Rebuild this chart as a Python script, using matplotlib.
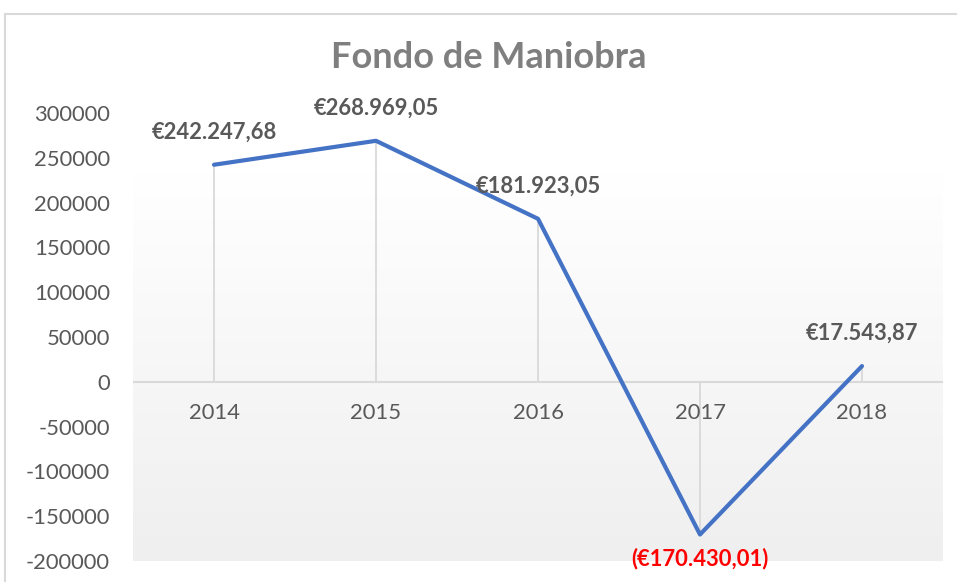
import numpy as np
import matplotlib
matplotlib.use("Agg")
import matplotlib.pyplot as plt
from matplotlib.lines import Line2D
from matplotlib.colors import LinearSegmentedColormap

years = ["2014", "2015", "2016", "2017", "2018"]
values = [242247.68, 268969.05, 181923.05, -170430.01, 17543.87]
labels = ["€242.247,68", "€268.969,05", "€181.923,05", "(€170.430,01)", "€17.543,87"]
yticks = [-200000, -150000, -100000, -50000, 0, 50000, 100000, 150000, 200000, 250000, 300000]

plt.rcParams['font.family'] = ['Lato', 'DejaVu Sans']

W, H = 957, 582
fig = plt.figure(figsize=(W / 100, H / 100), dpi=100)
fig.patch.set_facecolor("white")

# outer chart border
fig.add_artist(Line2D([5 / W, 5 / W], [0, 1 - 14 / H], transform=fig.transFigure, color="#d9d9d9", lw=1.5))
fig.add_artist(Line2D([5 / W, 1], [1 - 14 / H, 1 - 14 / H], transform=fig.transFigure, color="#d9d9d9", lw=1.5))

left, right, top, bottom = 133, 943, 113, 561
ax = fig.add_axes([left / W, 1 - bottom / H, (right - left) / W, (bottom - top) / H])
ax.set_facecolor("none")

x = np.arange(len(years))
ax.set_xlim(-0.5, len(years) - 0.5)
ax.set_ylim(-200000, 300000)

# gradient background
n = 256
frac = np.linspace(0, 1, n)  # 0 top -> 1 bottom
g = np.clip((frac - 0.13) / 0.87, 0, 1)
grad = g[:, None]
cmap = LinearSegmentedColormap.from_list("g", ["#ffffff", "#efefef"])
ax.imshow(grad, cmap=cmap, aspect="auto", extent=[-0.5, len(years) - 0.5, -200000, 300000],
          origin="upper", zorder=0, vmin=0, vmax=1)

for s in ax.spines.values():
    s.set_visible(False)

# zero axis
ax.axhline(0, color="#d9d9d9", lw=1.5, zorder=1)
# drop lines
for xi, v in zip(x, values):
    ax.plot([xi, xi], [0, v], color="#d9d9d9", lw=1.3, zorder=1)

ax.plot(x, values, color="#4472C4", lw=3.0, zorder=3, solid_joinstyle="round", solid_capstyle="round")

ax.set_yticks(yticks)
ax.set_yticklabels([str(t) for t in yticks], fontsize=15.8, color="#595959")
ax.tick_params(axis="y", length=0, pad=16.5)
ax.set_xticks([])

for xi, yr in zip(x, years):
    ax.annotate(yr, (xi, 0), xytext=(0, -22.5), textcoords="offset points",
                ha="center", va="center", fontsize=15.8, color="#595959")

for xi, v, lab in zip(x, values, labels):
    if v < 0:
        ax.annotate(lab, (xi, v), xytext=(0, -17), textcoords="offset points",
                    ha="center", va="center", fontsize=15.8, fontweight="bold", color="#FF0000")
    else:
        ax.annotate(lab, (xi, v), xytext=(0, 23.5), textcoords="offset points",
                    ha="center", va="center", fontsize=15.8, fontweight="bold", color="#595959")

fig.text(489 / W, 1 - 58 / H, "Fondo de Maniobra", ha="center", va="center",
         fontsize=26, fontweight="bold", color="#7f7f7f")

fig.savefig("out.png", dpi=100)
